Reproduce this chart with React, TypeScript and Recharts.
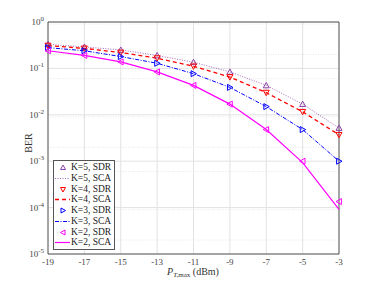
import React from 'react';
import {
  LineChart, Line, XAxis, YAxis, CartesianGrid, Legend, ReferenceArea,
} from 'recharts';

const powers = [-19, -17, -15, -13, -11, -9, -7, -5, -3];

const k5Sca = [0.33, 0.29, 0.25, 0.19, 0.136, 0.084, 0.043, 0.017, 0.0052];
const k5Sdr = [0.33, 0.29, 0.25, 0.19, 0.136, 0.084, 0.043, 0.017, 0.0052];
const k4Sca = [0.31, 0.27, 0.22, 0.166, 0.111, 0.065, 0.030, 0.0116, 0.0037];
const k4Sdr = [0.31, 0.27, 0.22, 0.166, 0.111, 0.065, 0.030, 0.0116, 0.0037];
const k3Sca = [0.28, 0.24, 0.18, 0.129, 0.077, 0.039, 0.015, 0.0048, 0.001];
const k3Sdr = [0.28, 0.24, 0.18, 0.129, 0.077, 0.039, 0.015, 0.0048, 0.001];
const k2Sca = [0.24, 0.19, 0.138, 0.084, 0.043, 0.017, 0.0048, 0.00093, 0.000092];
const k2Sdr = [0.24, 0.19, 0.138, 0.084, 0.043, 0.017, 0.0048, 0.001, 0.000135];

const xTicks = [-19, -17, -15, -13, -11, -9, -7, -5, -3];
const yTicks = [1e-5, 1e-4, 1e-3, 1e-2, 1e-1, 1];
const yExponents = [-5, -4, -3, -2, -1, 0];
const minorTicks: number[] = [];
for (const e of [-5, -4, -3, -2, -1]) {
  for (let m = 2; m <= 9; m++) minorTicks.push(m * Math.pow(10, e));
}

const data = powers.map((p, i) => ({
  p,
  k5Sdr: k5Sdr[i], k5Sca: k5Sca[i],
  k4Sdr: k4Sdr[i], k4Sca: k4Sca[i],
  k3Sdr: k3Sdr[i], k3Sca: k3Sca[i],
  k2Sdr: k2Sdr[i], k2Sca: k2Sca[i],
}));

const PURPLE = '#8E44A8';
const RED = '#FF0000';
const BLUE = '#0000FF';
const MAGENTA = '#FF00FF';

type Kind = 'up' | 'down' | 'right' | 'left';

const triPath = (cx: number, cy: number, kind: Kind, r = 3) => {
  switch (kind) {
    case 'up': return `M${cx},${cy - r}L${cx + r},${cy + r * 0.8}L${cx - r},${cy + r * 0.8}Z`;
    case 'down': return `M${cx},${cy + r}L${cx + r},${cy - r * 0.8}L${cx - r},${cy - r * 0.8}Z`;
    case 'right': return `M${cx + r},${cy}L${cx - r * 0.8},${cy - r}L${cx - r * 0.8},${cy + r}Z`;
    default: return `M${cx - r},${cy}L${cx + r * 0.8},${cy - r}L${cx + r * 0.8},${cy + r}Z`;
  }
};

const makeDot = (color: string, kind: Kind) => (props: any) => {
  const { cx, cy, index } = props;
  if (cx == null || cy == null) return <g key={index} />;
  return <path key={index} d={triPath(cx, cy, kind)} fill="none" stroke={color} strokeWidth={1} />;
};

const series = [
  { key: 'k5Sdr', name: 'K=5, SDR', color: PURPLE, marker: 'up' as Kind, dash: '', line: false, width: 0 },
  { key: 'k5Sca', name: 'K=5, SCA', color: PURPLE, marker: null, dash: '1 1.5', line: true, width: 0.8 },
  { key: 'k4Sdr', name: 'K=4, SDR', color: RED, marker: 'down' as Kind, dash: '', line: false, width: 0 },
  { key: 'k4Sca', name: 'K=4, SCA', color: RED, marker: null, dash: '4 3', line: true, width: 1.3 },
  { key: 'k3Sdr', name: 'K=3, SDR', color: BLUE, marker: 'right' as Kind, dash: '', line: false, width: 0 },
  { key: 'k3Sca', name: 'K=3, SCA', color: BLUE, marker: null, dash: '4 1.5 1 1.5', line: true, width: 1 },
  { key: 'k2Sdr', name: 'K=2, SDR', color: MAGENTA, marker: 'left' as Kind, dash: '', line: false, width: 0 },
  { key: 'k2Sca', name: 'K=2, SCA', color: MAGENTA, marker: null, dash: '', line: true, width: 1.2 },
];

const FONT = '"Liberation Serif", "DejaVu Serif", serif';

const YTick = (props: any) => {
  const { x, y, payload } = props;
  const idx = yTicks.indexOf(payload.value);
  const exp = idx >= 0 ? yExponents[idx] : Math.round(Math.log10(payload.value));
  return (
    <text x={x + 4} y={y + 3} textAnchor="end" fontFamily={FONT} fontSize={9} fill="#444">
      10<tspan dy={-4} fontSize={7}>{exp}</tspan>
    </text>
  );
};

const XTick = (props: any) => {
  const { x, y, payload } = props;
  return (
    <text x={x} y={y + 3} textAnchor="middle" fontFamily={FONT} fontSize={9} fill="#444">
      {payload.value}
    </text>
  );
};

const LegendContent = () => (
  <div style={{
    border: '1px solid #555', background: '#fff', padding: '1px 3px 1px 1px',
    fontFamily: FONT, fontSize: 9.5, color: '#222', lineHeight: '11px', whiteSpace: 'nowrap',
  }}>
    {series.map((s) => (
      <div key={s.key} style={{ display: 'flex', alignItems: 'center', height: 10.8 }}>
        <svg width={15} height={11} style={{ marginRight: 1, flexShrink: 0 }}>
          {s.line ? (
            <line x1={0} y1={5.5} x2={15} y2={5.5} stroke={s.color} strokeWidth={s.width}
              strokeDasharray={s.dash || undefined} />
          ) : (
            <path d={triPath(8, 5.5, s.marker as Kind, 2.5)} fill="none" stroke={s.color} strokeWidth={1} />
          )}
        </svg>
        <span>{s.name}</span>
      </div>
    ))}
  </div>
);

export default function App() {
  return (
    <div style={{ position: 'absolute', left: 0, top: 0, width: 374, height: 286, background: '#fff' }}>
      <LineChart width={374} height={286} data={data}
        margin={{ top: 22, right: 35, bottom: 12, left: 18 }}>
        <XAxis dataKey="p" type="number" domain={[-19, -3]} ticks={xTicks}
          tick={<XTick />} tickLine={false} axisLine={false} height={20} interval={0} />
        <YAxis scale="log" domain={[1e-5, 1]} ticks={yTicks} allowDataOverflow type="number"
          tick={<YTick />} tickLine={false} axisLine={false} width={30} interval={0} />
        <YAxis yAxisId="minor" scale="log" domain={[1e-5, 1]} ticks={minorTicks} allowDataOverflow
          type="number" hide />
        <CartesianGrid yAxisId="minor" vertical={false} stroke="#e6e6e6" strokeDasharray="1 1.5" />
        <CartesianGrid stroke="#e2e2e2" />
        <ReferenceArea x1={-19} x2={-3} y1={1e-5} y2={1} fill="none" stroke="#333" strokeWidth={0.8}
          ifOverflow="extendDomain" />
        {series.map((s) => s.line ? (
          <Line key={s.key} dataKey={s.key} name={s.name} stroke={s.color} strokeWidth={s.width}
            strokeDasharray={s.dash || undefined} dot={false} isAnimationActive={false} />
        ) : (
          <Line key={s.key} dataKey={s.key} name={s.name} stroke="none" strokeWidth={0}
            dot={makeDot(s.color, s.marker as Kind)} activeDot={false} isAnimationActive={false} legendType="none" />
        ))}
        <Legend content={<LegendContent />} layout="horizontal" verticalAlign="middle" align="center"
          wrapperStyle={{ position: 'absolute', left: 53, top: 160, width: 'auto', height: 'auto', bottom: 'auto' }} />
        <text x={32} y={143} transform="rotate(-90 32 143)" textAnchor="middle" fontFamily={FONT}
          fontSize={10} fill="#333">BER</text>
        <text x={193} y={275} textAnchor="middle" fontFamily={FONT} fontSize={10} fill="#333">
          <tspan fontStyle="italic">P</tspan>
          <tspan fontStyle="italic" fontSize={7} dy={2}>T,</tspan>
          <tspan fontSize={7}>max</tspan>
          <tspan dy={-2}> (dBm)</tspan>
        </text>
      </LineChart>
    </div>
  );
}
